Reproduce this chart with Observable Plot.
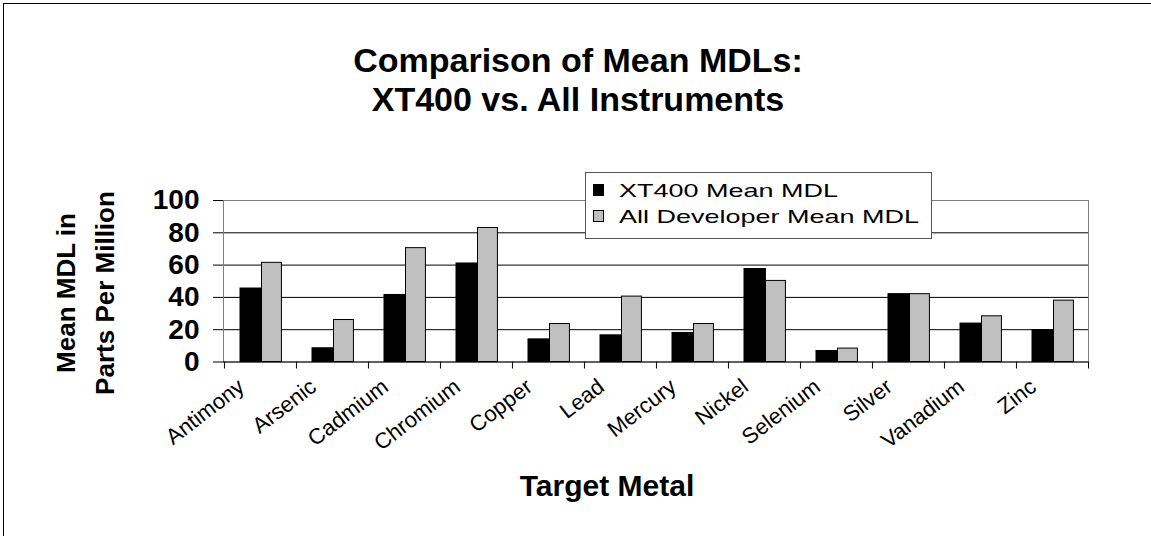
<!DOCTYPE html>
<html>
<head>
<meta charset="utf-8">
<script src="https://cdn.jsdelivr.net/npm/d3@7"></script>
<script src="https://cdn.jsdelivr.net/npm/@observablehq/plot@0.6"></script>
<style>
  html, body { margin: 0; padding: 0; background: #fff; }
  #wrap { position: relative; width: 1151px; height: 536px; overflow: hidden;
          font-family: Arial, "Liberation Sans", sans-serif; color: #000; background: #fff; }
  #frame { position: absolute; left: 3px; top: 3px; right: 0; bottom: 0; z-index: 10;
           border-top: 1px solid #000; border-left: 1px solid #000; pointer-events: none; }
  #title { position: absolute; left: 0; top: 41px; width: 1156px; text-align: center;
           font-weight: bold; font-size: 34px; line-height: 39px; }
  #chart { position: absolute; left: 0; top: 150px; }
  .ytitle { position: absolute; width: 260px; height: 30px; line-height: 30px;
            text-align: center; font-weight: bold; font-size: 26px;
            transform: rotate(-90deg); white-space: nowrap; }
  #xtitle { position: absolute; left: 457px; width: 300px; top: 471px; text-align: center;
            font-weight: bold; font-size: 30px; line-height: 1; }
  #legend { position: absolute; left: 585px; top: 172px; width: 347px; height: 67px;
            box-sizing: border-box; border: 1px solid #555; background: #fff; }
  .lrow { position: absolute; left: 0; height: 19px; }
  .lsw { position: absolute; left: 7px; width: 11px; height: 12px; box-sizing: border-box;
         border: 1px solid #000; }
  .ltx { position: absolute; left: 33px; top: 0; font-size: 19px; line-height: 1;
         white-space: nowrap; transform: scaleX(1.42); transform-origin: left center; }
</style>
</head>
<body>
<div id="wrap">
  <div id="title"></div>
  <div id="chart"></div>
  <div class="ytitle" id="yt1"></div>
  <div class="ytitle" id="yt2"></div>
  <div id="xtitle"></div>
  <div id="legend"></div>
  <div id="frame"></div>
</div>
<script>
// ---- data ----
const categories = ["Antimony", "Arsenic", "Cadmium", "Chromium", "Copper", "Lead",
                    "Mercury", "Nickel", "Selenium", "Silver", "Vanadium", "Zinc"];
const xt400Values = [45.5, 8.5, 41.5, 61, 14, 16.5, 18, 57.6, 6.8, 42, 23.8, 19.8];
const allDevValues = [61.4, 26, 70.5, 83, 23.5, 40.5, 23.5, 50.2, 8.3, 42, 28.3, 38];
const seriesNames = ["XT400 Mean MDL", "All Developer Mean MDL"];
const seriesColors = ["#000000", "#c0c0c0"];
const yTicks = [0, 20, 40, 60, 80, 100];
const titleLines = ["Comparison of Mean MDLs:", "XT400 vs. All Instruments"];
const yTitleLines = ["Mean MDL in", "Parts Per Million"];
const xTitle = "Target Metal";

// ---- table ----
const rows = categories.map((c, i) => ({cat: c, a: xt400Values[i], b: allDevValues[i]}));

// ---- layout ----
const W = 1151, H = 386;
const mL = 223, mR = 63, mT = 50, mB = 174.5;
const bw = (W - mL - mR) / categories.length;

const chart = Plot.plot({
  width: W,
  height: H,
  marginLeft: mL,
  marginRight: mR,
  marginTop: mT,
  marginBottom: mB,
  style: {fontFamily: "Arial, 'Liberation Sans', sans-serif", color: "#000", background: "transparent"},
  x: {type: "band", domain: categories, padding: 0, label: null},
  y: {domain: [0, 100], label: null},
  marks: [
    Plot.gridY(yTicks.slice(1, -1), {stroke: "#000", strokeOpacity: 1}),
    Plot.frame({stroke: "#808080"}),
    Plot.barY(rows, {x: "cat", y: "a", fill: seriesColors[0], stroke: "#000", strokeWidth: 1,
                     insetLeft: 16, insetRight: bw - 37.5}),
    Plot.barY(rows, {x: "cat", y: "b", fill: seriesColors[1], stroke: "#000", strokeWidth: 1,
                     insetLeft: 37.5, insetRight: bw - 57.5}),
    Plot.ruleY([0], {stroke: "#000"}),
    // category boundary ticks
    Plot.axisX({tickSize: 7, tickFormat: () => "", dx: -bw / 2, stroke: "#000"}),
    Plot.axisX([categories[categories.length - 1]], {tickSize: 7, tickFormat: () => "", dx: bw / 2, stroke: "#000"}),
    // category labels
    Plot.axisX({tickSize: 0, tickRotate: -37.5, tickPadding: 22, fontSize: 22, dx: -19, label: null}),
    Plot.axisY({ticks: yTicks, tickSize: 10, tickPadding: 14, fontSize: 28, fontWeight: "bold",
                stroke: "#000", label: null})
  ]
});
document.getElementById("chart").appendChild(chart);

// ---- titles ----
document.getElementById("title").innerHTML = titleLines.map(t => `<div>${t}</div>`).join("");
const yt1 = document.getElementById("yt1"), yt2 = document.getElementById("yt2");
yt1.textContent = yTitleLines[0];
yt2.textContent = yTitleLines[1];
yt1.style.left = (66 - 130) + "px"; yt1.style.top = (293 - 15) + "px";
yt2.style.left = (105 - 130) + "px"; yt2.style.top = (293 - 15) + "px";
document.getElementById("xtitle").textContent = xTitle;

// ---- legend ----
const legend = document.getElementById("legend");
seriesNames.forEach((name, i) => {
  const row = document.createElement("div");
  row.className = "lrow";
  row.style.top = (i === 0 ? 8 : 34) + "px";
  row.style.width = "340px";
  const sw = document.createElement("div");
  sw.className = "lsw";
  sw.style.background = seriesColors[i];
  sw.style.top = "3px";
  const tx = document.createElement("span");
  tx.className = "ltx";
  tx.textContent = name;
  row.appendChild(sw);
  row.appendChild(tx);
  legend.appendChild(row);
});
</script>
</body>
</html>
